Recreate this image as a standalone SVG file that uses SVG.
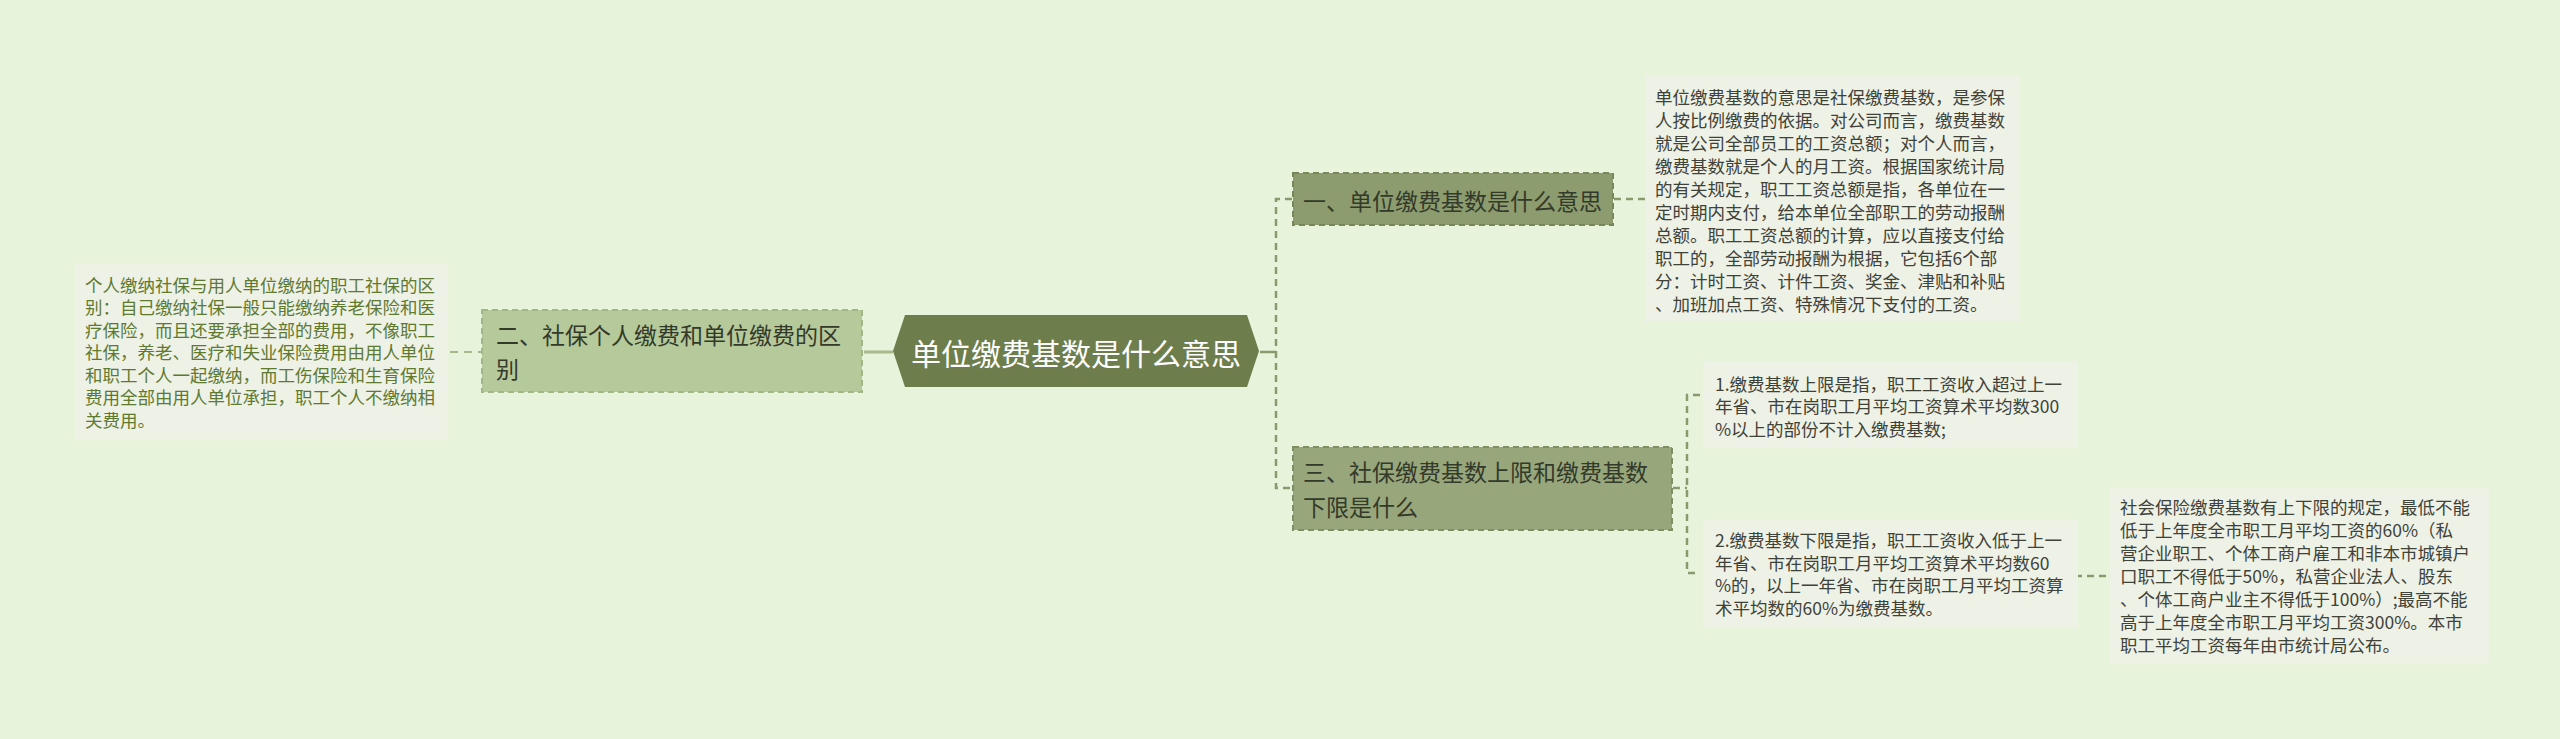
<svg xmlns="http://www.w3.org/2000/svg" width="2560" height="739" viewBox="0 0 2560 739">
<style>
text{font-family:"Noto Sans CJK SC","Noto Sans",sans-serif;dominant-baseline:central}
.root{fill:#6d7e4c}
.rt{fill:#ffffff;font-size:30px}
.n1{fill:#8c9c6f;stroke:#76875a;stroke-width:2;stroke-dasharray:6 4}
.n3{fill:#98a67c;stroke:#7f8f63;stroke-width:2;stroke-dasharray:6 4}
.n2{fill:#b5c99b;stroke:#a2b787;stroke-width:2;stroke-dasharray:6 4}
.nt{fill:#333a2a;font-size:23px}
.leaf{fill:#edf1e6}
.lt{fill:#3f4238;font-size:17.5px}
.lg{fill:#5f7a30;font-size:17.5px}
.c{fill:none;stroke:#8a9a6e;stroke-width:2.5;stroke-dasharray:7 5}
.cs{fill:none;stroke:#8a9a6e;stroke-width:2.5}
.cl{fill:none;stroke:#a6ba8b;stroke-width:2;stroke-dasharray:8 6}
.cls{fill:none;stroke:#a6ba8b;stroke-width:3}
</style>
<rect width="2560" height="739" fill="#e8f3dc"/>
<g id="connectors">
<path class="cls" d="M864 352 H893"/>
<path class="cl" d="M450 352 H481"/>
<path class="cs" d="M1260 352 H1276"/>
<path class="c" d="M1292 199 H1276 V488 H1292"/>
<path class="c" d="M1614 199 H1645"/>
<path class="c" d="M1673 488 H1687"/>
<path class="c" d="M1700 395 H1687 V573 H1700"/>
<path class="c" d="M2075 576 H2107"/>
</g>
<g id="root">
<polygon class="root" points="893,351 905,315 1247,315 1259,351 1247,387 905,387"/>
<text class="rt" x="1076" y="352" text-anchor="middle">单位缴费基数是什么意思</text>
</g>
<g id="node-er">
<rect class="n2" x="482" y="310" width="380" height="82"/>
<text class="nt" x="496" y="334">二、社保个人缴费和单位缴费的区</text>
<text class="nt" x="496" y="368">别</text>
</g>
<g id="leaf-er">
<rect class="leaf" x="75" y="263" width="373" height="177"/>
<text class="lg" x="85" y="284">个人缴纳社保与用人单位缴纳的职工社保的区</text>
<text class="lg" x="85" y="306.5">别：自己缴纳社保一般只能缴纳养老保险和医</text>
<text class="lg" x="85" y="329">疗保险，而且还要承担全部的费用，不像职工</text>
<text class="lg" x="85" y="351.5">社保，养老、医疗和失业保险费用由用人单位</text>
<text class="lg" x="85" y="374">和职工个人一起缴纳，而工伤保险和生育保险</text>
<text class="lg" x="85" y="396.5">费用全部由用人单位承担，职工个人不缴纳相</text>
<text class="lg" x="85" y="419">关费用。</text>
</g>
<g id="node-yi">
<rect class="n1" x="1293" y="173" width="320" height="52"/>
<text class="nt" x="1303" y="200">一、单位缴费基数是什么意思</text>
</g>
<g id="leaf-yi">
<rect class="leaf" x="1646" y="75" width="374" height="246"/>
<text class="lt" x="1655" y="96">单位缴费基数的意思是社保缴费基数，是参保</text>
<text class="lt" x="1655" y="119">人按比例缴费的依据。对公司而言，缴费基数</text>
<text class="lt" x="1655" y="142">就是公司全部员工的工资总额；对个人而言，</text>
<text class="lt" x="1655" y="165">缴费基数就是个人的月工资。根据国家统计局</text>
<text class="lt" x="1655" y="188">的有关规定，职工工资总额是指，各单位在一</text>
<text class="lt" x="1655" y="211">定时期内支付，给本单位全部职工的劳动报酬</text>
<text class="lt" x="1655" y="234">总额。职工工资总额的计算，应以直接支付给</text>
<text class="lt" x="1655" y="257">职工的，全部劳动报酬为根据，它包括6个部</text>
<text class="lt" x="1655" y="280">分：计时工资、计件工资、奖金、津贴和补贴</text>
<text class="lt" x="1655" y="303">、加班加点工资、特殊情况下支付的工资。</text>
</g>
<g id="node-san">
<rect class="n3" x="1293" y="447" width="379" height="83"/>
<text class="nt" x="1303" y="471">三、社保缴费基数上限和缴费基数</text>
<text class="nt" x="1303" y="506">下限是什么</text>
</g>
<g id="leaf-san-1">
<rect class="leaf" x="1703" y="362" width="375" height="86"/>
<text class="lt" x="1715" y="383">1.缴费基数上限是指，职工工资收入超过上一</text>
<text class="lt" x="1715" y="405.5">年省、市在岗职工月平均工资算术平均数300</text>
<text class="lt" x="1715" y="428">%以上的部份不计入缴费基数;</text>
</g>
<g id="leaf-san-2">
<rect class="leaf" x="1703" y="520" width="375" height="108"/>
<text class="lt" x="1715" y="539.5">2.缴费基数下限是指，职工工资收入低于上一</text>
<text class="lt" x="1715" y="562">年省、市在岗职工月平均工资算术平均数60</text>
<text class="lt" x="1715" y="584.5">%的，以上一年省、市在岗职工月平均工资算</text>
<text class="lt" x="1715" y="607">术平均数的60%为缴费基数。</text>
</g>
<g id="leaf-san-2-1">
<rect class="leaf" x="2109" y="487" width="380" height="176"/>
<text class="lt" x="2120" y="506">社会保险缴费基数有上下限的规定，最低不能</text>
<text class="lt" x="2120" y="529">低于上年度全市职工月平均工资的60%（私</text>
<text class="lt" x="2120" y="552">营企业职工、个体工商户雇工和非本市城镇户</text>
<text class="lt" x="2120" y="575">口职工不得低于50%，私营企业法人、股东</text>
<text class="lt" x="2120" y="598">、个体工商户业主不得低于100%）;最高不能</text>
<text class="lt" x="2120" y="621">高于上年度全市职工月平均工资300%。本市</text>
<text class="lt" x="2120" y="644">职工平均工资每年由市统计局公布。</text>
</g>
</svg>
